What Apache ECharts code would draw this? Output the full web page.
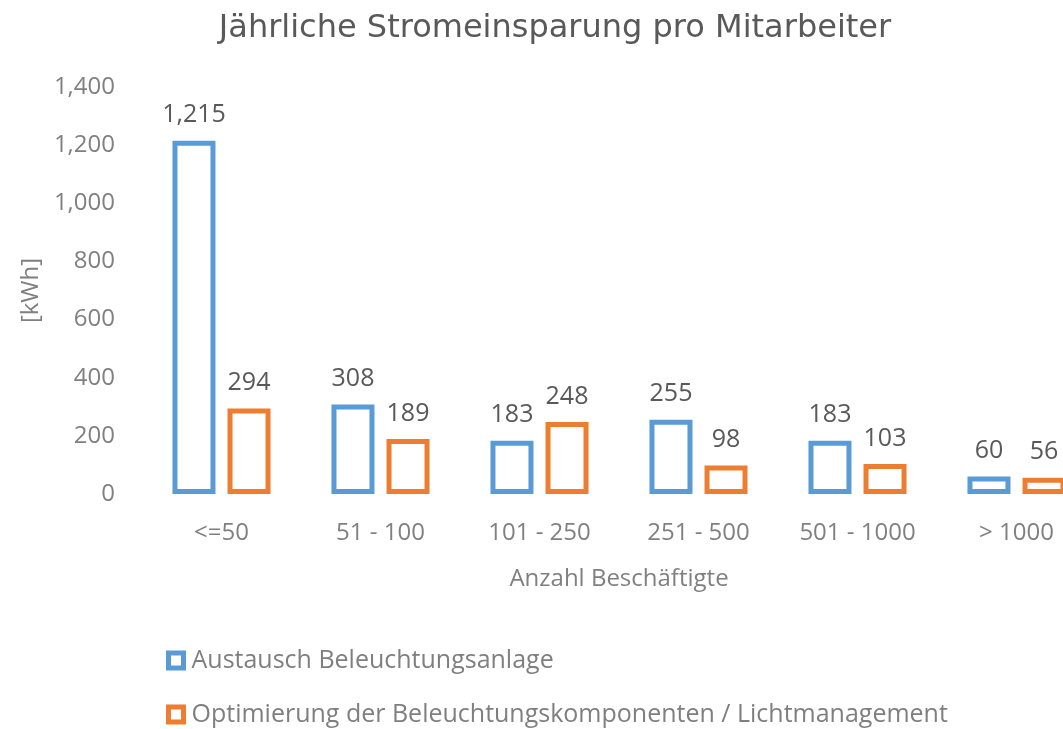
<!DOCTYPE html>
<html lang="de">
<head>
	<meta charset="utf-8">
	<title>Jährliche Stromeinsparung pro Mitarbeiter</title>
	<style type="text/css">
		html, body {
			margin: 0;
			padding: 0;
			background: #fff;
			overflow: hidden;
		}
		#chart {
			width: 1100px;
			height: 729px;
		}
	</style>
</head>
<body>
	<div id="chart"></div>
	<script type="text/javascript" src="https://cdn.jsdelivr.net/npm/echarts@6/dist/echarts.min.js"></script>
	<script type="text/javascript">
		var categories = ['<=50', '51 - 100', '101 - 250', '251 - 500', '501 - 1000', '> 1000'];
		var austausch = [1215, 308, 183, 255, 183, 60];
		var optimierung = [294, 189, 248, 98, 103, 56];
		var yTicks = [0, 200, 400, 600, 800, 1000, 1200, 1400];

		var fontName = '"Open Sans", "Noto Sans", sans-serif';

		function fmt(v) {
			return Number(v).toLocaleString('en-US');
		}

		var chart = echarts.init(document.getElementById('chart'));
		var option = {
			title: {
				text: 'Jährliche Stromeinsparung pro Mitarbeiter',
				left: 550,
				textAlign: 'center',
				top: 8,
				textStyle: {
					color: '#595959',
					fontFamily: '"DejaVu Sans", sans-serif',
					fontWeight: 'normal',
					fontSize: 32
				}
			},
			legend: {
				orient: 'vertical',
				left: 166,
				top: 648,
				height: 81,
				padding: 0,
				itemGap: 29,
				itemWidth: 15,
				itemHeight: 15,
				icon: 'rect',
				textStyle: {
					color: '#7f7f7f',
					fontFamily: fontName,
					fontSize: 25,
					lineHeight: 25,
					padding: [0, 0, 0, 3]
				},
				data: [
					{ name: 'Austausch Beleuchtungsanlage', itemStyle: { color: '#fff', borderColor: '#5b9bd5', borderWidth: 5 } },
					{ name: 'Optimierung der Beleuchtungskomponenten / Lichtmanagement', itemStyle: { color: '#fff', borderColor: '#ed7d31', borderWidth: 5 } }
				]
			},
			grid: {
				left: 142,
				right: 4,
				top: 87,
				bottom: 235
			},
			xAxis: {
				type: 'category',
				data: categories,
				name: 'Anzahl Beschäftigte',
				nameLocation: 'middle',
				nameGap: 73,
				nameTextStyle: {
					color: '#808080',
					fontFamily: fontName,
					fontSize: 24
				},
				axisLine: { show: false },
				axisTick: { show: false },
				axisLabel: {
					color: '#808080',
					fontFamily: fontName,
					fontSize: 24,
					margin: 27
				}
			},
			yAxis: {
				type: 'value',
				min: yTicks[0],
				max: yTicks[yTicks.length - 1],
				interval: 200,
				name: '[kWh]',
				nameLocation: 'middle',
				nameGap: 99,
				nameTextStyle: {
					color: '#808080',
					fontFamily: fontName,
					fontSize: 24
				},
				splitLine: { show: false },
				axisLine: { show: false },
				axisTick: { show: false },
				axisLabel: {
					color: '#808080',
					fontFamily: fontName,
					fontSize: 24,
					margin: 27,
					formatter: fmt
				}
			},
			series: [{
				name: 'Austausch Beleuchtungsanlage',
				type: 'bar',
				data: austausch,
				barWidth: 43,
				barGap: '28%',
				itemStyle: {
					color: '#fff',
					borderColor: '#5b9bd5',
					borderWidth: 5
				},
				label: {
					show: true,
					position: 'top',
					distance: 13,
					color: '#595959',
					fontFamily: fontName,
					fontSize: 25,
					formatter: function (p) { return fmt(p.value); }
				}
			}, {
				name: 'Optimierung der Beleuchtungskomponenten / Lichtmanagement',
				type: 'bar',
				data: optimierung,
				barWidth: 43,
				itemStyle: {
					color: '#fff',
					borderColor: '#ed7d31',
					borderWidth: 5
				},
				label: {
					show: true,
					position: 'top',
					distance: 13,
					color: '#595959',
					fontFamily: fontName,
					fontSize: 25,
					formatter: function (p) { return fmt(p.value); }
				}
			}]
		};
		chart.setOption(option);
	</script>
</body>
</html>
